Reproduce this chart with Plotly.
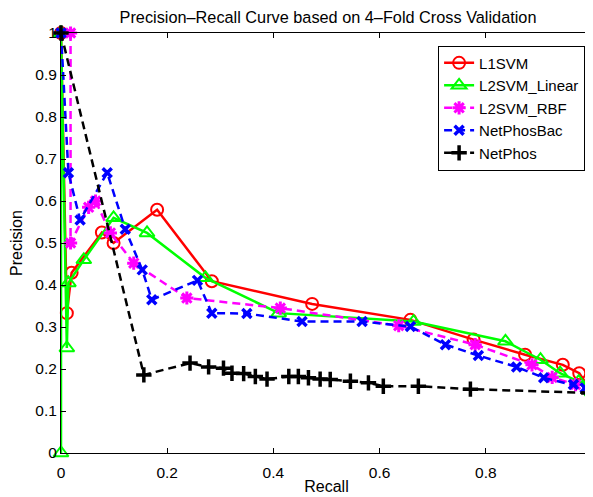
import plotly.graph_objects as go

l1_recall = [0.0, 0.011, 0.02, 0.077, 0.099, 0.181, 0.284, 0.473, 0.658, 0.777, 0.874, 0.945, 0.976, 1.0]
l1_prec = [1.0, 0.333, 0.429, 0.525, 0.5, 0.579, 0.409, 0.355, 0.317, 0.27, 0.234, 0.21, 0.19, 0.145]

l2lin_recall = [0.0, 0.0, 0.011, 0.014, 0.043, 0.099, 0.162, 0.272, 0.41, 0.664, 0.837, 0.903, 0.94, 0.975, 0.995, 1.0]
l2lin_prec = [0.0, 1.0, 0.25, 0.405, 0.46, 0.56, 0.524, 0.417, 0.333, 0.313, 0.266, 0.222, 0.19, 0.17, 0.167, 0.145]

rbf_recall = [0.018, 0.018, 0.052, 0.065, 0.093, 0.137, 0.237, 0.413, 0.636, 0.78, 0.887, 0.925, 0.969, 0.997]
rbf_prec = [1.0, 0.5, 0.585, 0.6, 0.524, 0.452, 0.369, 0.345, 0.303, 0.258, 0.21, 0.18, 0.163, 0.15]

npb_recall = [0.0, 0.014, 0.036, 0.087, 0.121, 0.153, 0.171, 0.257, 0.284, 0.35, 0.454, 0.567, 0.658, 0.724, 0.786, 0.858, 0.909, 0.965, 0.987, 1.0]
npb_prec = [1.0, 0.667, 0.555, 0.667, 0.533, 0.436, 0.365, 0.411, 0.333, 0.332, 0.313, 0.313, 0.301, 0.258, 0.232, 0.205, 0.179, 0.163, 0.155, 0.15]

np_recall = [0.0, 0.156, 0.243, 0.278, 0.306, 0.322, 0.344, 0.366, 0.388, 0.429, 0.447, 0.466, 0.488, 0.507, 0.545, 0.579, 0.607, 0.673, 0.771, 0.994]
np_prec = [1.0, 0.186, 0.214, 0.205, 0.202, 0.19, 0.189, 0.182, 0.176, 0.182, 0.182, 0.179, 0.176, 0.175, 0.171, 0.167, 0.159, 0.159, 0.152, 0.143]

series_names = ["L1SVM", "L2SVM_Linear", "L2SVM_RBF", "NetPhosBac", "NetPhos"]
x_ticks = [0, 0.2, 0.4, 0.6, 0.8, 1]
x_tick_labels = ["0", "0.2", "0.4", "0.6", "0.8", "1"]
y_ticks = [0, 0.1, 0.2, 0.3, 0.4, 0.5, 0.6, 0.7, 0.8, 0.9, 1]
y_tick_labels = ["0", "0.1", "0.2", "0.3", "0.4", "0.5", "0.6", "0.7", "0.8", "0.9", "1"]

FONT = "Liberation Sans, Arial, Helvetica, sans-serif"

# the page body has an 8px margin, so the figure is drawn 8px smaller and offset
W, H = 585, 489

fig = go.Figure()
specs = [
    (l1_recall, l1_prec, "#ff0000", "solid", "circle-open", 12, 2),
    (l2lin_recall, l2lin_prec, "#00ff00", "solid", "triangle-up-open", 13, 2),
    (rbf_recall, rbf_prec, "#ff00ff", "8px,5px", "asterisk-open", 11, 3),
    (npb_recall, npb_prec, "#0000ff", "8px,5px", "x-thin-open", 9, 3.5),
    (np_recall, np_prec, "#000000", "8px,5px", "cross-thin-open", 11, 3.5),
]
for name, (xs, ys, col, dash, sym, sz, mw) in zip(series_names, specs):
    fig.add_trace(go.Scatter(
        x=xs, y=ys, name=name, mode="lines+markers",
        line=dict(color=col, width=2.5, dash=dash),
        marker=dict(symbol=sym, size=sz, color=col, line=dict(color=col, width=mw)),
        cliponaxis=False,
    ))

axis_common = dict(
    showline=True, linecolor="black", linewidth=1, mirror="ticks",
    ticks="inside", ticklen=5, tickcolor="black", showgrid=False, zeroline=False,
    tickfont=dict(family=FONT, size=15.5, color="black"), automargin=False,
)
fig.update_layout(
    width=W, height=H,
    margin=dict(l=53, r=1, t=25, b=44, autoexpand=False),
    paper_bgcolor="white", plot_bgcolor="white",
    title=dict(text="Precision\u2013Recall Curve based on 4\u2013Fold Cross Validation",
               x=320 / W, xanchor="center", xref="container", y=1 - 4 / H, yanchor="top", yref="container",
               font=dict(family=FONT, size=16.3, color="black")),
    xaxis=dict(range=[0, 1], tickvals=x_ticks, ticktext=x_tick_labels, ticklabelstandoff=5,
               title=dict(text="Recall", font=dict(family=FONT, size=16, color="black"), standoff=1),
               **axis_common),
    yaxis=dict(range=[0, 1], tickvals=y_ticks, ticktext=y_tick_labels,
               title=dict(text="Precision", font=dict(family=FONT, size=16, color="black"), standoff=11),
               **axis_common),
    legend=dict(x=0.987, y=0.97, xanchor="right", yanchor="top",
                bgcolor="white", bordercolor="black", borderwidth=1,
                font=dict(family=FONT, size=15, color="black"), tracegroupgap=0),
    showlegend=True,
)
fig.write_html("out.html")
